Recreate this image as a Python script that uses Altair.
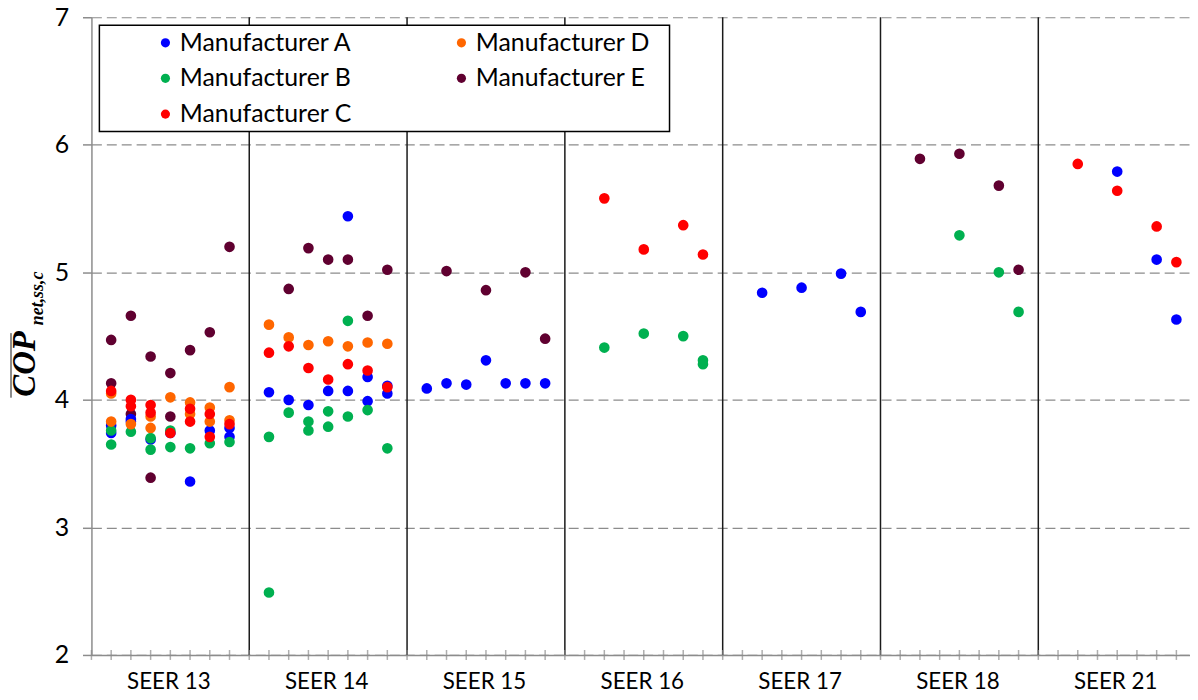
import altair as alt
import pandas as pd

# ---------------- data ----------------
groups = ["SEER 13", "SEER 14", "SEER 15", "SEER 16", "SEER 17", "SEER 18", "SEER 21"]
series = ["Manufacturer A", "Manufacturer B", "Manufacturer C", "Manufacturer D", "Manufacturer E"]
colors = ["#0000FF", "#00B050", "#FF0000", "#FF6600", "#600030"]

# each point: group index, slot within group (1..7), COP value
A_group = [0, 0, 0, 0, 0, 0, 0, 0, 0, 0,
           1, 1, 1, 1, 1, 1, 1, 1, 1, 1,
           2, 2, 2, 2, 2, 2, 2,
           4, 4, 4, 4,
           6, 6, 6]
A_slot = [1, 1, 2, 2, 3, 4, 5, 6, 7, 7,
          1, 2, 3, 4, 5, 5, 6, 6, 7, 7,
          1, 2, 3, 4, 5, 6, 7,
          2, 4, 6, 7,
          4, 6, 7]
A_cop = [3.80, 3.74, 3.85, 3.83, 3.69, 3.74, 3.36, 3.76, 3.78, 3.71,
         4.06, 4.00, 3.96, 4.07, 4.07, 5.44, 4.18, 3.99, 4.05, 4.11,
         4.09, 4.13, 4.12, 4.31, 4.13, 4.13, 4.13,
         4.84, 4.88, 4.99, 4.69,
         5.79, 5.10, 4.63]

B_group = [0, 0, 0, 0, 0, 0, 0, 0, 0, 0,
           1, 1, 1, 1, 1, 1, 1, 1, 1, 1, 1,
           3, 3, 3, 3, 3,
           5, 5, 5]
B_slot = [1, 1, 2, 3, 3, 4, 4, 5, 6, 7,
          1, 1, 2, 3, 3, 4, 4, 5, 5, 6, 7,
          2, 4, 6, 7, 7,
          4, 6, 7]
B_cop = [3.76, 3.65, 3.75, 3.70, 3.61, 3.76, 3.63, 3.62, 3.66, 3.67,
         3.71, 2.49, 3.90, 3.83, 3.76, 3.91, 3.79, 4.62, 3.87, 3.92, 3.62,
         4.41, 4.52, 4.50, 4.31, 4.28,
         5.29, 5.00, 4.69]

C_group = [0, 0, 0, 0, 0, 0, 0, 0, 0, 0, 0,
           1, 1, 1, 1, 1, 1, 1,
           3, 3, 3, 3,
           6, 6, 6, 6]
C_slot = [1, 2, 2, 3, 3, 4, 5, 5, 6, 6, 7,
          1, 2, 3, 4, 5, 6, 7,
          2, 4, 6, 7,
          2, 4, 6, 7]
C_cop = [4.07, 4.00, 3.95, 3.96, 3.90, 3.74, 3.93, 3.83, 3.89, 3.71, 3.81,
         4.37, 4.42, 4.25, 4.16, 4.28, 4.23, 4.10,
         5.58, 5.18, 5.37, 5.14,
         5.85, 5.64, 5.36, 5.08]

D_group = [0, 0, 0, 0, 0, 0, 0, 0, 0, 0, 0, 0,
           1, 1, 1, 1, 1, 1, 1]
D_slot = [1, 1, 2, 3, 3, 4, 5, 5, 6, 6, 7, 7,
          1, 2, 3, 4, 5, 6, 7]
D_cop = [4.05, 3.83, 3.81, 3.87, 3.78, 4.02, 3.98, 3.89, 3.94, 3.83, 4.10, 3.84,
         4.59, 4.49, 4.43, 4.46, 4.42, 4.45, 4.44]

E_group = [0, 0, 0, 0, 0, 0, 0, 0, 0, 0, 0,
           1, 1, 1, 1, 1, 1,
           2, 2, 2, 2,
           5, 5, 5, 5]
E_slot = [1, 1, 2, 2, 3, 3, 4, 4, 5, 6, 7,
          2, 3, 4, 5, 6, 7,
          2, 4, 6, 7,
          2, 4, 6, 7]
E_cop = [4.47, 4.13, 4.66, 3.89, 4.34, 3.39, 4.21, 3.87, 4.39, 4.53, 5.20,
         4.87, 5.19, 5.10, 5.10, 4.66, 5.02,
         5.01, 4.86, 5.00, 4.48,
         5.89, 5.93, 5.68, 5.02]

SLOTS = 8  # slots per SEER group on the x scale

# ---------------- tables ----------------
rows = []
for name, g, s, v in [
    ("Manufacturer E", E_group, E_slot, E_cop),
    ("Manufacturer A", A_group, A_slot, A_cop),
    ("Manufacturer B", B_group, B_slot, B_cop),
    ("Manufacturer D", D_group, D_slot, D_cop),
    ("Manufacturer C", C_group, C_slot, C_cop),
]:
    for gi, si, vi in zip(g, s, v):
        rows.append({"maker": name, "pos": gi * SLOTS + si, "cop": vi})
points = pd.DataFrame(rows)

bounds = pd.DataFrame({"b": [SLOTS * i for i in range(1, len(groups))]})
minor = pd.DataFrame({"t": list(range(0, SLOTS * len(groups))), "y0": 2})
one = pd.DataFrame({"k": [0]})

label_expr = "[" + ",".join("'" + g + "'" for g in groups) + "][floor(datum.value / %d)]" % SLOTS

FONT = "Lato"
GRAY = "#8C8C8C"
x_dom = [0, 55.69]

xscale = alt.Scale(domain=x_dom, nice=False, zero=False)
yscale = alt.Scale(domain=[2, 7], nice=False, zero=False)

# group separator lines
sep = alt.Chart(bounds).mark_rule(color="#1A1A1A", strokeWidth=1.5).encode(
    x=alt.X("b:Q", scale=xscale,
            axis=alt.Axis(values=[SLOTS * i + SLOTS / 2 for i in range(len(groups))],
                          labelExpr=label_expr, title=None, ticks=False,
                          domainColor=GRAY, domainWidth=1.5, grid=False,
                          labelFont=FONT, labelFontSize=22.5, labelColor="#000000",
                          labelPadding=16, labelOffset=-2, labelOverlap=False)),
)

# minor tick marks crossing the x axis
ticks = alt.Chart(minor).mark_tick(color=GRAY, thickness=1.5, size=10, orient="vertical").encode(
    x=alt.X("t:Q", scale=xscale),
    y=alt.Y("y0:Q", scale=yscale),
)

# legend frame
frame = alt.Chart(one).mark_rect(fill="white", stroke="#000000", strokeWidth=1.5).encode(
    x=alt.value(8), x2=alt.value(582), y=alt.value(8), y2=alt.value(115)
)

pts = alt.Chart(points).mark_circle(size=115, opacity=1).encode(
    x=alt.X("pos:Q", scale=xscale),
    y=alt.Y("cop:Q", scale=yscale,
            axis=alt.Axis(values=[2, 3, 4, 5, 6, 7], format="d", title=None, tickSize=9,
                          tickColor=GRAY, tickWidth=1.5, domainColor=GRAY, domainWidth=1.5,
                          grid=True, gridColor=GRAY, gridDash=[10, 5], gridWidth=1.2,
                          labelFont=FONT, labelFontSize=25, labelColor="#000000",
                          labelPadding=14)),
    color=alt.Color("maker:N",
                    scale=alt.Scale(domain=series, range=colors),
                    legend=alt.Legend(title=None, orient="none", legendX=62, legendY=13,
                                      columns=2, columnPadding=97, rowPadding=10,
                                      symbolType="circle", symbolSize=85, symbolStrokeWidth=0,
                                      labelFont=FONT, labelFontSize=25, labelColor="#000000",
                                      labelOffset=2, labelLimit=400, padding=0)),
)

# y-axis title: COP with overbar and subscript
title_main = alt.Chart(one).mark_text(
    text="COP", font="Liberation Serif", fontStyle="italic", fontWeight="bold",
    fontSize=33, angle=270, align="center", baseline="middle", color="#000000"
).encode(x=alt.value(-67), y=alt.value(349))
title_sub = alt.Chart(one).mark_text(
    text="net,ss,c", font="Liberation Serif", fontStyle="italic", fontWeight="bold",
    fontSize=18, angle=270, align="center", baseline="middle", color="#000000"
).encode(x=alt.value(-54), y=alt.value(283))
overbar = alt.Chart(one).mark_rule(color=GRAY, strokeWidth=2).encode(
    x=alt.value(-81), y=alt.value(318), y2=alt.value(383)
)

chart = alt.layer(sep, ticks, frame, pts, title_main, title_sub, overbar).properties(
    width=1106, height=642,
    autosize=alt.AutoSizeParams(type="none"),
    padding={"left": 84, "top": 7, "right": 0, "bottom": 40},
).configure_view(stroke=None).configure_axis(domainCap="butt")

chart.save("out.html", embed_options={"renderer": "svg", "actions": False})
